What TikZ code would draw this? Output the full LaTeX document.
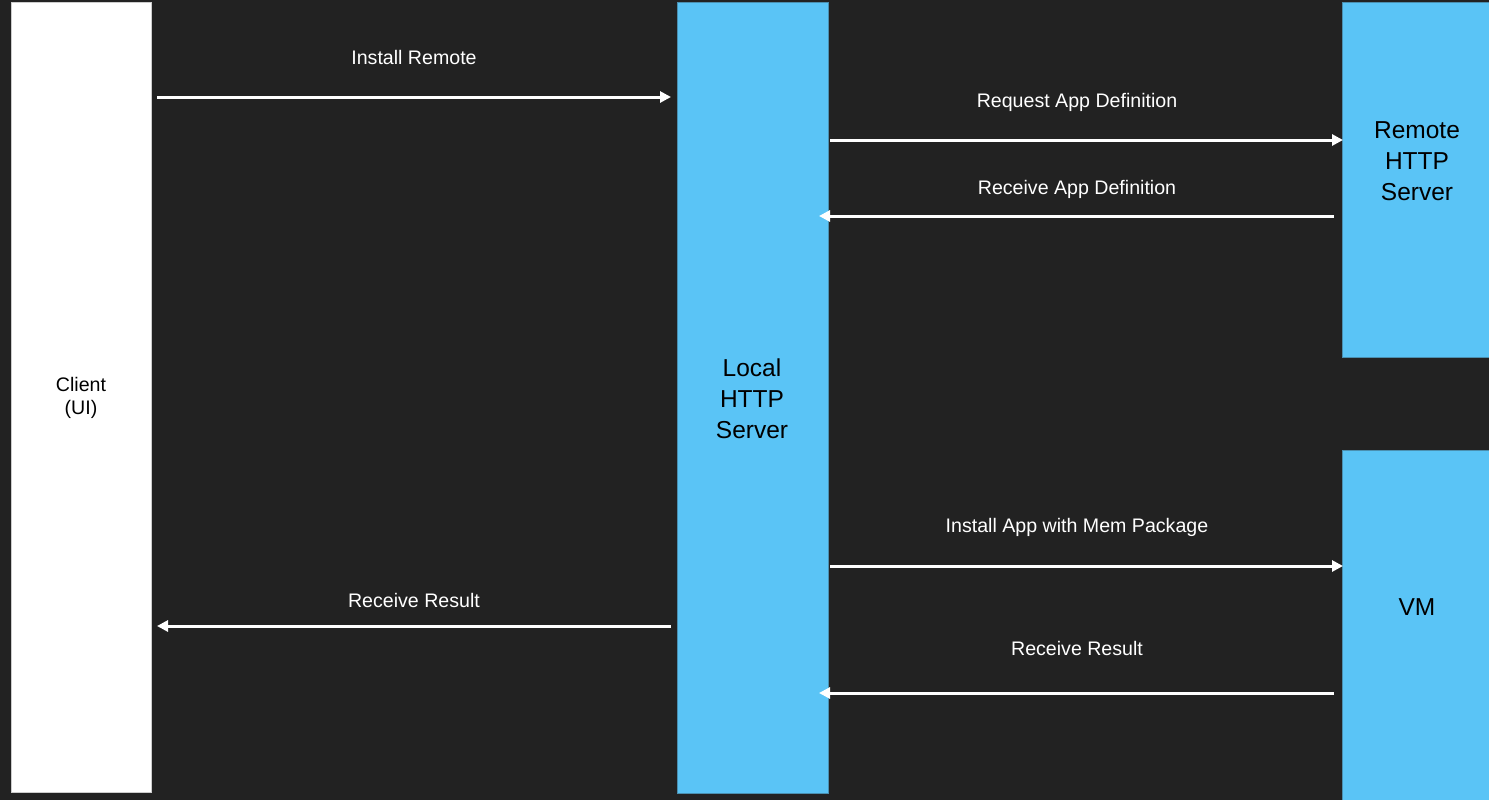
\documentclass[tikz,border=0pt]{standalone}
\usepackage{fontspec}
\setmainfont{Liberation Sans}
\usetikzlibrary{arrows.meta}
\definecolor{bgdark}{HTML}{222222}
\definecolor{srvblue}{HTML}{5AC4F6}
\definecolor{srvedge}{HTML}{4A8FB0}
\tikzset{
  box/.style={draw=#1!60!gray, line width=1pt, minimum width=140pt, inner sep=0pt},
  flow/.style={draw=white, line width=3pt, -{Triangle[length=11pt,width=11pt]}},
  msg/.style={text=white, font=\fontsize{19.6}{23}\selectfont},
  big/.style={align=center, font=\fontsize{24.5}{31}\selectfont},
}
\begin{document}
\begin{tikzpicture}[x=1pt,y=-1pt]
\fill[bgdark] (0,0) rectangle (1489,800);
\useasboundingbox (0,0) rectangle (1489,800);
% boxes
\node[box=white, fill=white, minimum width=140pt, minimum height=789pt] (client) at (81,397.5) {};
\node[box=srvblue, fill=srvblue, draw=srvedge, minimum width=151pt, minimum height=790pt] (local) at (752.5,398) {};
\node[box=srvblue, fill=srvblue, draw=srvedge, minimum width=148pt, minimum height=354pt] (remote) at (1416,180) {};
\node[box=srvblue, fill=srvblue, draw=srvedge, minimum width=148pt, minimum height=352pt] (vm) at (1416,626) {};
% box texts
\node[align=center, font=\fontsize{19.6}{23}\selectfont] (clienttxt) at (81,398) {Client\\(UI)};
\node[big] (localtxt) at (752,399) {Local\\HTTP\\Server};
\node[big] (remotetxt) at (1417,161) {Remote\\HTTP\\Server};
\node[big] (vmtxt) at (1417,607) {VM};
% arrow ends
\coordinate (c1) at (157,97);   \coordinate (l1) at (671,97);
\coordinate (l2) at (830,140);  \coordinate (r2) at (1343,140);
\coordinate (r3) at (1334,216); \coordinate (l3) at (819,216);
\coordinate (l4) at (830,566);  \coordinate (v4) at (1343,566);
\coordinate (v5) at (1334,693); \coordinate (l5) at (819,693);
\coordinate (l6) at (671,626);  \coordinate (c6) at (157,626);
% messages
\draw[flow] (c1) -- (l1);
\node[msg] (m1) at (414,57) {Install Remote};
\draw[flow] (l2) -- (r2);
\node[msg] (m2) at (1077,102) {Request App Definition};
\draw[flow] (r3) -- (l3);
\node[msg] (m3) at (1077,189) {Receive App Definition};
\draw[flow] (l4) -- (v4);
\node[msg] (m4) at (1077,527) {Install App with Mem Package};
\draw[flow] (v5) -- (l5);
\node[msg] (m5) at (1077,648) {Receive Result};
\draw[flow] (l6) -- (c6);
\node[msg] (m6) at (414,600) {Receive Result};
\end{tikzpicture}
\end{document}
